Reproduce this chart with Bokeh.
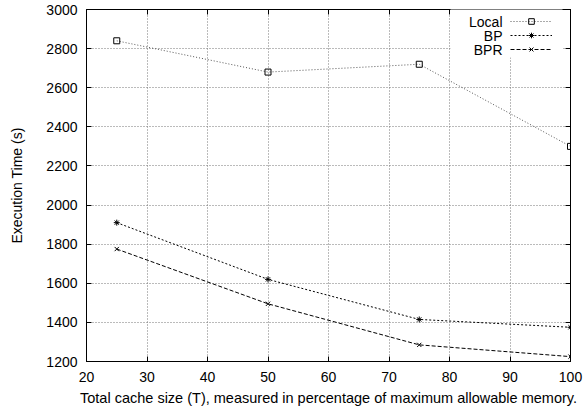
from bokeh.plotting import figure
from bokeh.models import (Range1d, LinearAxis, FixedTicker, Legend, LegendItem,
                          Label, BoxAnnotation, Grid)
from bokeh.embed import file_html
from bokeh.resources import INLINE

# data
cache_pct = [25, 50, 75, 100]
local_time = [2840, 2680, 2720, 2300]
bp_time = [1910, 1620, 1415, 1375]
bpr_time = [1775, 1495, 1285, 1225]
x_ticks = [20, 30, 40, 50, 60, 70, 80, 90, 100]
y_ticks = [1200, 1400, 1600, 1800, 2000, 2200, 2400, 2600, 2800, 3000]
series_names = ["Local", "BP", "BPR"]

FONT = "Liberation Sans"

p = figure(width=584, height=408, output_backend="svg", toolbar_location=None,
           x_range=Range1d(20, 100), y_range=Range1d(1200, 3000),
           min_border_left=86, min_border_right=14, min_border_top=9,
           min_border_bottom=46, x_axis_type=None, y_axis_type=None)

p.outline_line_color = "black"
p.outline_line_width = 1
p.background_fill_color = "white"
p.border_fill_color = "white"

def style_axis(ax, show_labels):
    ax.axis_line_color = "black"
    ax.major_tick_line_color = "black"
    ax.major_tick_in = 5
    ax.major_tick_out = 0
    ax.minor_tick_line_color = None
    if show_labels:
        ax.major_label_text_font = FONT
        ax.major_label_text_font_size = "14px"
        ax.major_label_text_color = "black"
        ax.axis_label_text_font = FONT
        ax.axis_label_text_font_style = "normal"
        ax.axis_label_text_color = "black"
    else:
        ax.major_label_text_font_size = "0px"
        ax.major_label_standoff = 0
        ax.major_label_text_alpha = 0

xb = LinearAxis(ticker=FixedTicker(ticks=x_ticks),
                axis_label="Total cache size (T), measured in percentage of maximum allowable memory.")
style_axis(xb, True)
xb.axis_label_text_font_size = "14.5px"
xb.major_label_standoff = 10
xb.axis_label_standoff = 5
p.add_layout(xb, "below")

yl = LinearAxis(ticker=FixedTicker(ticks=y_ticks), axis_label="Execution Time (s)")
style_axis(yl, True)
yl.axis_label_text_font_size = "14px"
yl.major_label_standoff = 9
yl.axis_label_standoff = 18
p.add_layout(yl, "left")

xt = LinearAxis(ticker=FixedTicker(ticks=x_ticks))
style_axis(xt, False)
p.add_layout(xt, "above")
yr = LinearAxis(ticker=FixedTicker(ticks=y_ticks))
style_axis(yr, False)
p.add_layout(yr, "right")

gx = Grid(dimension=0, ticker=FixedTicker(ticks=x_ticks[1:-1]),
          grid_line_color="#777777", grid_line_dash="1 2", grid_line_width=1)
gy = Grid(dimension=1, ticker=FixedTicker(ticks=y_ticks[1:-1]),
          grid_line_color="#777777", grid_line_dash="1 2", grid_line_width=1)
p.add_layout(gx)
p.add_layout(gy)

# series
l1 = p.line(cache_pct, local_time, line_color="#555555", line_width=1, line_dash="1 2")
m1 = p.scatter(cache_pct, local_time, marker="square", size=6, fill_color=None,
               line_color="black", line_width=1)
l2 = p.line(cache_pct, bp_time, line_color="black", line_width=1, line_dash="2 2")
m2 = p.scatter(cache_pct, bp_time, marker="asterisk", size=6, line_color="black", line_width=1)
l3 = p.line(cache_pct, bpr_time, line_color="black", line_width=1, line_dash="4 2")
m3 = p.scatter(cache_pct, bpr_time, marker="x", size=6, line_color="black", line_width=1)

# legend background (hides grid behind key)
p.add_layout(BoxAnnotation(left=364, right=476, bottom=304, top=353,
                           left_units="screen", right_units="screen",
                           bottom_units="screen", top_units="screen",
                           fill_color="white", fill_alpha=1, line_color=None))

legend = Legend(items=[LegendItem(label=" ", renderers=[l1, m1]),
                       LegendItem(label=" ", renderers=[l2, m2]),
                       LegendItem(label=" ", renderers=[l3, m3])],
                location=(424, 305), glyph_width=42, glyph_height=14,
                label_width=0, label_height=14, label_standoff=0,
                label_text_font_size="1px", spacing=0, padding=0, margin=0,
                background_fill_alpha=0, border_line_color=None)
p.add_layout(legend)

for name, yy in zip(series_names, [340, 326, 312]):
    p.add_layout(Label(x=416, y=yy, x_units="screen", y_units="screen", text=name,
                       text_align="right", text_baseline="middle",
                       text_font=FONT, text_font_size="14px", text_color="black"))

open("out.html", "w").write(file_html(p, INLINE))
